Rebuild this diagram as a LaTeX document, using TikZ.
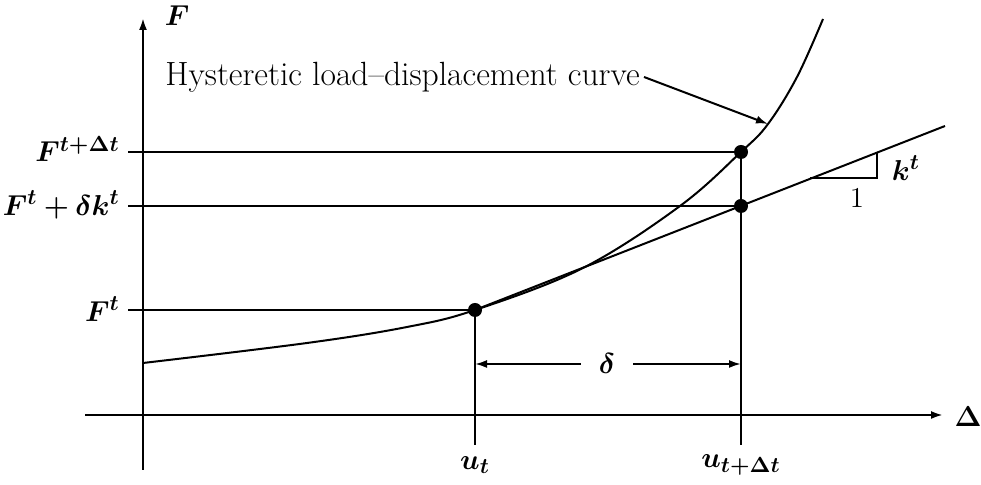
\documentclass[tikz,border=0pt]{standalone}
\usepackage{amsmath,bm}
\usetikzlibrary{arrows.meta}
\begin{document}
\begin{tikzpicture}[x=0.5pt,y=-0.5pt,
  every node/.style={font=\fontsize{15}{18}\selectfont, inner sep=2pt},
  ln/.style={line width=1pt},
  ax/.style={line width=1.1pt,-{Latex[length=6pt,width=4pt]}},
  dim/.style={line width=1pt,-{Latex[length=6pt,width=4pt]}},
  dot/.style={circle,fill=black,inner sep=0pt,minimum size=7pt}]
\useasboundingbox (0,0) rectangle (981,485);
% axes
\coordinate (yb) at (143,470);
\coordinate (yt) at (143,18);
\coordinate (xl) at (85,415);
\coordinate (xr) at (943,415);
\draw[ax] (yb) -- (yt);
\draw[ax] (xl) -- (xr);
\node (Flab) at (177,16) {$\bm{F}$};
\node (Dlab) at (968,417) {$\bm{\Delta}$};
% key points
\coordinate (P1) at (475,310);
\coordinate (P2) at (741,152);
\coordinate (P3) at (741,206);
% level lines
\coordinate (h1) at (128,152);
\coordinate (h2) at (128,206);
\coordinate (h3) at (128,310);
\draw[ln] (h1) -- (P2);
\draw[ln] (h2) -- (P3);
\draw[ln] (h3) -- (P1);
\node[anchor=east] (L1) at (124,149) {$\bm{F^{t+\Delta t}}$};
\node[anchor=east] (L2) at (124,205) {$\bm{F^{t}+\delta k^{t}}$};
\node[anchor=east] (L3) at (124,309) {$\bm{F^{t}}$};
% verticals
\coordinate (v1) at (475,445);
\coordinate (v2) at (741,445);
\draw[ln] (P1) -- (v1);
\draw[ln] (P2) -- (v2);
\node (U1) at (475,465) {$\bm{u_t}$};
\node (U2) at (741,465) {$\bm{u_{t+\Delta t}}$};
% delta dimension
\node (dl) at (607,364) {$\bm{\delta}$};
\coordinate (d1) at (475,364);
\coordinate (d2) at (741,364);
\draw[dim] (dl.west) ++(-14,0) -- (d1);
\draw[dim] (dl.east) ++(14,0) -- (d2);
% curve
\draw[ln] plot[smooth,tension=0.6] coordinates {(143,363) (307,343) (407,327) (475,310) (583,268) (680,206) (741,152) (768,124) (797,77) (823,19)};
% tangent
\coordinate (tE) at (945,126);
\draw[ln] (P1) -- (tE);
% slope triangle
\coordinate (s1) at (810,178);
\coordinate (s2) at (877,178);
\coordinate (s3) at (877,152);
\draw[ln] (s1) -- (s2) -- (s3);
\node (one) at (857,198) {$1$};
\node (kt) at (906,168) {$\bm{k^{t}}$};
% curve label
\node[anchor=west,font=\fontsize{16.8}{20}\selectfont] (cl) at (161,77) {Hysteretic load--displacement curve};
\coordinate (ctip) at (768,124);
\draw[dim] (cl.east) -- (ctip);
% dots
\node[dot] at (P1) {};
\node[dot] at (P2) {};
\node[dot] at (P3) {};
\end{tikzpicture}
\end{document}
